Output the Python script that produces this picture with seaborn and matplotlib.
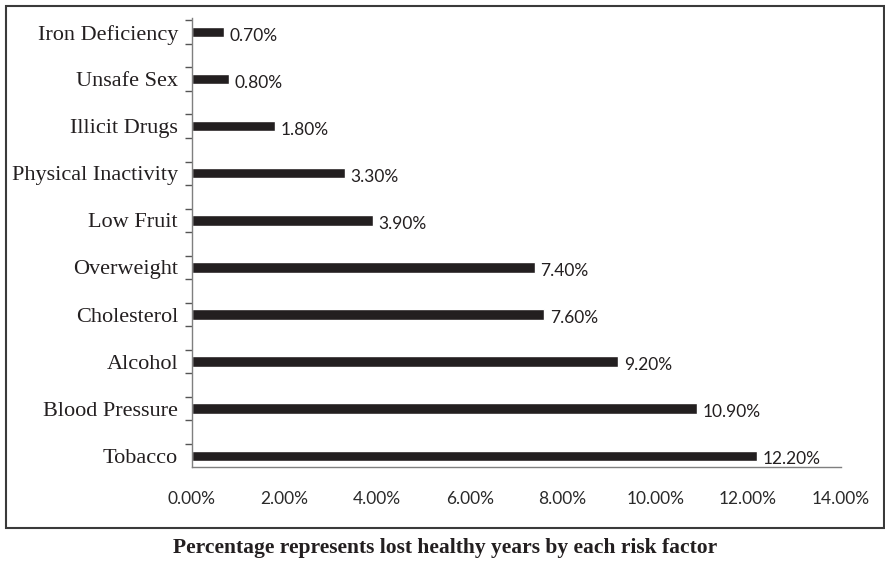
import matplotlib
matplotlib.use("Agg")
import matplotlib.pyplot as plt
import seaborn as sns
import pandas as pd
from matplotlib.patches import Rectangle
from matplotlib.ticker import FixedLocator, FuncFormatter

categories = ["Iron Deficiency", "Unsafe Sex", "Illicit Drugs", "Physical Inactivity",
              "Low Fruit", "Overweight", "Cholesterol", "Alcohol", "Blood Pressure", "Tobacco"]
values = [0.70, 0.80, 1.80, 3.30, 3.90, 7.40, 7.60, 9.20, 10.90, 12.20]
x_ticks = [0, 2, 4, 6, 8, 10, 12, 14]
caption = "Percentage represents lost healthy years by each risk factor"

sns.set_theme(style="white")
plt.rcParams["font.family"] = ["Liberation Serif", "DejaVu Serif"]

df = pd.DataFrame({"factor": categories, "value": values})

fig = plt.figure(figsize=(8.85, 5.62), dpi=100)
ax = fig.add_axes([192 / 885, (562 - 467) / 562, (840.7 - 192) / 885, (467 - 18) / 562])

bar_color = "#231f20"
sns.barplot(data=df, x="value", y="factor", order=categories, color=bar_color,
            width=0.22, saturation=1, ax=ax)

ax.set_xlim(0, 14)
ax.set_ylim(9.24, -0.30)
ax.set_xlabel("")
ax.set_ylabel("")

for s in ["top", "right"]:
    ax.spines[s].set_visible(False)
for s in ["left", "bottom"]:
    ax.spines[s].set_color("#7f7f7f")
    ax.spines[s].set_linewidth(1.0)

sans = ["Lato", "DejaVu Sans"]

ax.xaxis.set_major_locator(FixedLocator(x_ticks))
ax.xaxis.set_major_formatter(FuncFormatter(lambda v, p: f"{v:.2f}%"))
ax.tick_params(axis="x", which="major", direction="out", length=4, width=1,
               color="#555555", pad=13, labelsize=12.5, labelcolor="#2a2a2a")
for lbl in ax.get_xticklabels():
    lbl.set_family(sans)

# category labels
ax.set_yticks(range(len(categories)))
ax.set_yticklabels(categories, fontsize=16, color="#231f20")
ax.tick_params(axis="y", which="major", length=0, pad=10)
minor = []
for i in range(len(categories)):
    minor += [i - 0.25, i + 0.25]
ax.yaxis.set_minor_locator(FixedLocator(minor))
ax.tick_params(axis="y", which="minor", direction="out", length=5, width=1,
               color="#555555", left=True)

for i, v in enumerate(values):
    ax.annotate(f"{v:.2f}%", xy=(v, i), xytext=(4, -2.5), textcoords="offset points",
                ha="left", va="center", fontsize=12.5, color="#231f20",
                family=sans)

fig.patches.append(Rectangle((5.5 / 885, (562 - 527.5) / 562), (884 - 5.5) / 885,
                             (527.5 - 6) / 562, transform=fig.transFigure,
                             fill=False, edgecolor="#3a3a3a", linewidth=1.5))

fig.text(445 / 885, (562 - 548) / 562, caption, ha="center", va="center",
         fontsize=15.5, fontweight="bold", color="#231f20")

fig.savefig("out.png", dpi=100)
